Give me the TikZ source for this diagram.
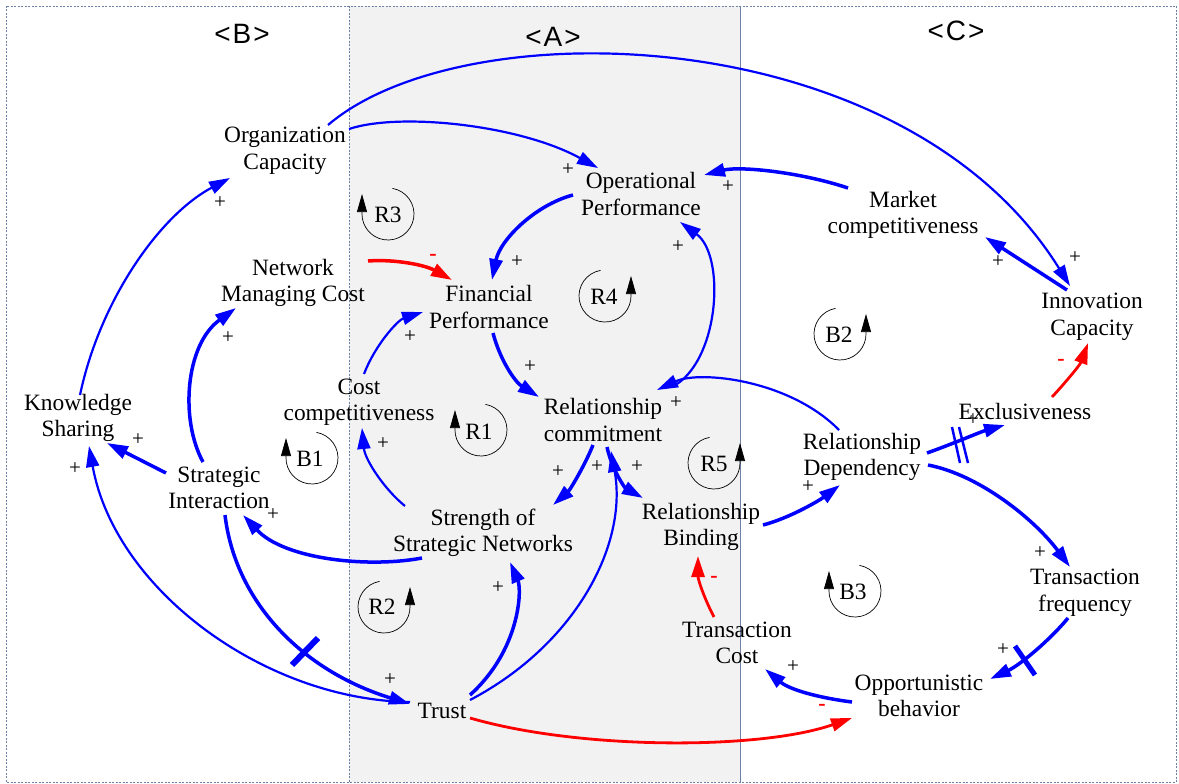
\documentclass[tikz,border=0pt]{standalone}
\usepackage{fontspec}
\setmainfont{Liberation Serif}
\newfontfamily\hdrfont{Liberation Sans}
\usetikzlibrary{arrows.meta,calc}
\definecolor{areagray}{RGB}{242,242,242}
\definecolor{bordcol}{RGB}{110,130,165}
\definecolor{pureblue}{RGB}{0,0,255}
\definecolor{purered}{RGB}{255,0,0}
\begin{document}
\begin{tikzpicture}[x=1pt,y=-1pt,
  lbl/.style={font=\fontsize{23.4}{26.5}\selectfont, align=center, inner sep=0pt},
  hdr/.style={font=\hdrfont\fontsize{28}{28}\selectfont, inner sep=0pt},
  pl/.style={font=\fontsize{21}{21}\selectfont, inner sep=0pt},
  mi/.style={font=\bfseries\fontsize{22}{22}\selectfont, text=purered, inner sep=0pt},
  lnk/.style={draw=pureblue, line width=2.2pt, -{Triangle[length=21pt,width=13pt]}},
  lnkt/.style={lnk, line width=3.5pt},
  neg/.style={lnk, draw=purered, line width=2.8pt},
  negt/.style={lnk, draw=purered, line width=3.5pt},
  delaybar/.style={draw=pureblue, line width=6pt},
  loopln/.style={draw=black, line width=0.7pt, -{Triangle[length=18pt,width=10pt]}},
  bord/.style={draw=bordcol, line width=0.9pt, dash pattern=on 2pt off 1.5pt},
  loopleft/.pic={\begin{scope}[yscale=-1]
     \draw[loopln] (80:26) arc[start angle=80,end angle=-180,radius=26] -- ++(0,20);
   \end{scope}},
  loopright/.pic={\begin{scope}[yscale=-1]
     \draw[loopln] (100:26) arc[start angle=100,end angle=360,radius=26] -- ++(0,20);
   \end{scope}}
]
\useasboundingbox (0,0) rectangle (1179,784);
% regions
\fill[areagray] (349,6) rectangle (740,782);
\draw[bord] (6,6) rectangle (1176,782);
\draw[bord] (349,6) -- (349,782);
\draw[draw=bordcol, line width=1pt] (740,6) -- (740,782);
\node[hdr] (hB) at (242,34) {<\kern2pt B\kern2pt>};
\node[hdr] (hA) at (553,37) {<\kern2pt A\kern2pt>};
\node[hdr] (hC) at (956,31) {<\kern2pt C\kern2pt>};

% variables
\node[lbl] (org) at (285,151) {Organization\\Capacity};
\node[lbl] (op) at (641,194) {Operational\\Performance};
\node[lbl] (mkt) at (903,215) {Market\\competitiveness};
\node[lbl] (nmc) at (293,283) {Network\\Managing Cost};
\node[lbl] (fin) at (489,307) {Financial\\Performance};
\node[lbl] (inn) at (1092,317) {Innovation\\Capacity};
\node[lbl] (cc) at (359,402) {Cost\\competitiveness};
\node[lbl] (ks) at (78,418) {Knowledge\\Sharing};
\node[lbl] (rc) at (603,420) {Relationship\\commitment};
\node[lbl] (exc) at (1025,411) {Exclusiveness};
\node[lbl] (rd) at (862,457) {Relationship\\Dependency};
\node[lbl] (si) at (219,488) {Strategic\\Interaction};
\node[lbl] (ssn) at (483,533) {Strength of\\Strategic Networks};
\node[lbl] (rb) at (701,527) {Relationship\\Binding};
\node[lbl] (tf) at (1085,593) {Transaction\\frequency};
\node[lbl] (tc) at (737,643) {Transaction\\Cost};
\node[lbl] (ob) at (919,696) {Opportunistic\\behavior};
\node[lbl] (tr) at (442,711) {Trust};

% loop markers
\pic at (388,214) {loopleft};   \node[lbl] (lR3) at (388,215) {R3};
\pic at (605,296) {loopright};  \node[lbl] (lR4) at (604,297) {R4};
\pic at (481,430) {loopleft};   \node[lbl] (lR1) at (479,432) {R1};
\pic at (312,458) {loopleft};   \node[lbl] (lB1) at (310,459) {B1};
\pic at (384,607) {loopright};  \node[lbl] (lR2) at (382,607) {R2};
\pic at (714,463) {loopright};  \node[lbl] (lR5) at (714,464) {R5};
\pic at (840,334) {loopright};  \node[lbl] (lB2) at (839,335) {B2};
\pic at (855,591) {loopleft};   \node[lbl] (lB3) at (853,592) {B3};

% connectors
\draw[lnk] ($(ks)+(2,-23)$) .. controls (100,300) and (160,215) .. ($(org)+(-55,27)$);
\draw[lnk] ($(org)+(64,-22)$) .. controls (400,112) and (520,125) .. ($(op)+(-43,-26)$);
\draw[lnk] ($(org)+(43,-26)$) .. controls (465,8) and (905,20) .. ($(inn)+(-22,-31)$);
\draw[lnkt] ($(mkt)+(-55,-27)$) .. controls (800,172) and (740,166) .. ($(op)+(63,-19)$);
\draw[lnkt] ($(inn)+(-25,-27)$) -- ($(mkt)+(82,22)$);
\draw[lnkt] ($(op)+(-68,1)$) .. controls (535,205) and (500,240) .. ($(fin)+(3,-27)$);
\draw[negt] ($(nmc)+(75,-22)$) .. controls (395,259) and (425,265) .. ($(fin)+(-37,-27)$);
\draw[lnk] ($(cc)+(5,-28)$) .. controls (375,345) and (398,320) .. ($(fin)+(-66,5)$);
\draw[lnkt] ($(fin)+(4,26)$) .. controls (500,360) and (515,382) .. ($(rc)+(-64,-23)$);
\draw[lnk] ($(rc)+(74,-36)$) .. controls (720,355) and (725,255) .. ($(op)+(39,28)$);
\draw[lnkt] ($(rc)+(-10,25)$) .. controls (585,465) and (570,490) .. ($(ssn)+(70,-28)$);
\draw[lnkt] ($(rc)+(4,27)$) .. controls (612,470) and (625,488) .. ($(rb)+(-58,-29)$);
\draw[lnk] ($(tr)+(28,-11)$) .. controls (575,645) and (628,545) .. ($(rc)+(8,31)$);
\draw[lnkt] ($(tr)+(28,-16)$) .. controls (520,650) and (522,590) .. ($(ssn)+(27,29)$);
\draw[neg] ($(tr)+(28,7)$) .. controls (580,750) and (760,750) .. ($(ob)+(-67,22)$);
\draw[lnk] ($(ssn)+(-78,-27)$) .. controls (385,490) and (365,460) .. ($(cc)+(3,26)$);
\draw[lnkt] ($(ssn)+(-61,25)$) .. controls (370,568) and (285,560) .. ($(si)+(24,27)$);
\draw[lnkt] ($(si)+(-53,-15)$) -- ($(ks)+(29,25)$);
\draw[lnkt] ($(si)+(-16,-26)$) .. controls (180,420) and (185,345) .. ($(nmc)+(-57,25)$);
\draw[lnkt] ($(si)+(6,27)$) .. controls (235,600) and (300,670) .. ($(tr)+(-32,-7)$);
\draw[lnk] ($(tr)+(-32,-9)$) .. controls (265,700) and (115,590) .. ($(ks)+(11,28)$);
\draw[lnkt] ($(rb)+(62,-2)$) .. controls (790,518) and (820,500) .. ($(rd)+(-22,28)$);
\draw[neg] ($(tc)+(-23,-26)$) .. controls (705,600) and (698,580) .. ($(rb)+(-3,29)$);
\draw[lnk] ($(rd)+(-23,-27)$) .. controls (790,380) and (700,370) .. ($(rc)+(54,-30)$);
\draw[lnkt] ($(rd)+(65,-4)$) .. controls (955,443) and (980,432) .. ($(exc)+(-20,14)$);
\draw[neg] ($(exc)+(27,-14)$) .. controls (1065,383) and (1080,365) .. ($(inn)+(-4,26)$);
\draw[lnkt] ($(rd)+(66,8)$) .. controls (980,475) and (1035,520) .. ($(tf)+(-15,-26)$);
\draw[lnkt] ($(tf)+(-17,25)$) .. controls (1050,640) and (1020,665) .. ($(ob)+(71,-17)$);
\draw[lnkt] ($(ob)+(-67,6)$) .. controls (820,698) and (790,690) .. ($(tc)+(28,26)$);

% delay marks
\draw[delaybar] (292,665) -- (318,638);
\draw[delaybar, line width=5pt] (1015,646) -- (1035,675);
\draw[draw=pureblue, line width=2.5pt] (952,427) -- (960,463);
\draw[draw=pureblue, line width=2.5pt] (959,427) -- (968,463);

% polarities
\node[pl] (p1) at (220,203) {+};
\node[pl] (p2) at (568,170) {+};
\node[pl] (p3) at (1075,258) {+};
\node[pl] (p4) at (728,187) {+};
\node[pl] (p5) at (998,262) {+};
\node[pl] (p6) at (517,262) {+};
\node[mi] (m7) at (433,257) {-};
\node[pl] (p8) at (410,337) {+};
\node[pl] (p9) at (530,367) {+};
\node[pl] (p10) at (678,247) {+};
\node[pl] (p11) at (558,472) {+};
\node[pl] (p12) at (637,467) {+};
\node[pl] (p13) at (597,467) {+};
\node[pl] (p14) at (498,588) {+};
\node[mi] (m15) at (822,707) {-};
\node[pl] (p16) at (383,444) {+};
\node[pl] (p17) at (273,515) {+};
\node[pl] (p18) at (138,440) {+};
\node[pl] (p19) at (228,338) {+};
\node[pl] (p20) at (390,680) {+};
\node[pl] (p21) at (75,469) {+};
\node[pl] (p22) at (808,487) {+};
\node[mi] (m23) at (714,579) {-};
\node[pl] (p24) at (676,403) {+};
\node[pl] (p25) at (973,420) {+};
\node[mi] (m26) at (1061,362) {-};
\node[pl] (p27) at (1040,553) {+};
\node[pl] (p28) at (1003,650) {+};
\node[pl] (p29) at (793,667) {+};
\end{tikzpicture}
\end{document}
